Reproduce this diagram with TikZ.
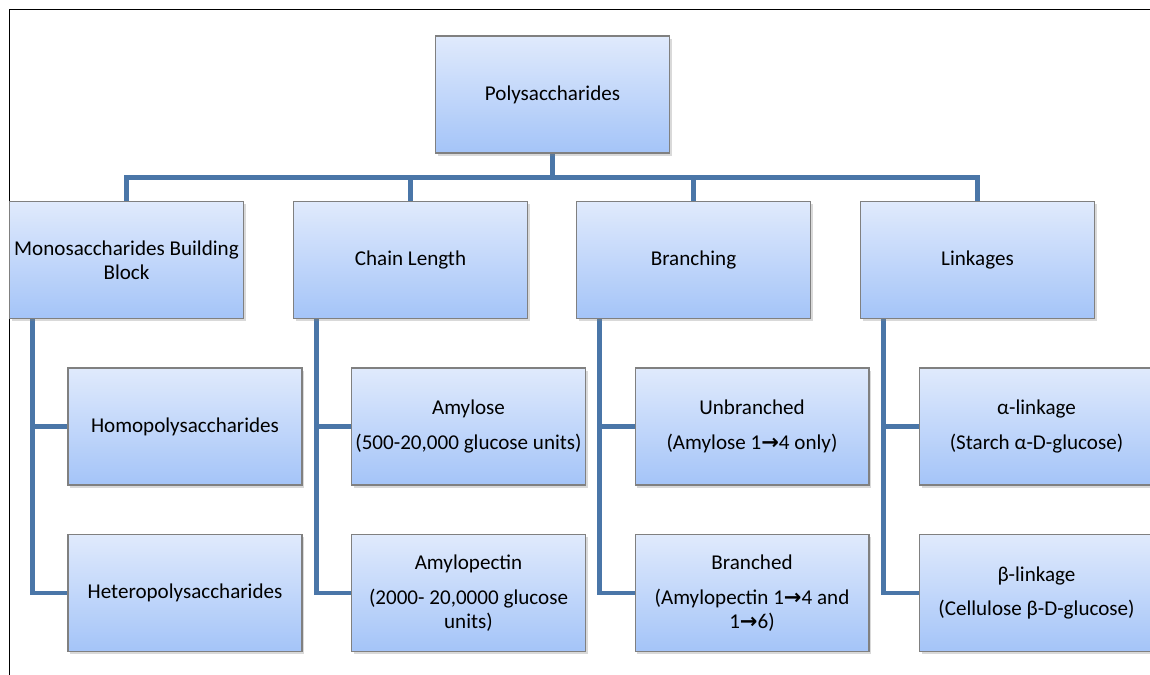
\documentclass[tikz,border=0pt]{standalone}
\usepackage{fontspec}
\setmainfont{Carlito}
\newfontfamily\arrowfont{DejaVu Sans}
\usepackage{tikz, xcolor}
\usetikzlibrary{calc,shadows}
\definecolor{lineblue}{RGB}{74,118,168}
\definecolor{boxtop}{RGB}{224,234,252}
\definecolor{boxbottom}{RGB}{164,196,248}
\definecolor{boxborder}{RGB}{128,128,128}
\newcommand{\ra}{{\arrowfont\bfseries →}}
\tikzset{%
    % style for the boxes of the chart
    chart box/.style={%
        draw=boxborder,
        line width=0.6pt,
        top color=boxtop,
        bottom color=boxbottom,
        minimum width=4.68cm,
        minimum height=2.34cm,
        inner sep=2pt,
        align=center,
        font=\fontsize{12}{13.7}\selectfont,
        drop shadow={shadow xshift=1.2pt, shadow yshift=-1.5pt,
                     opacity=0.3},
    },
    % style for the connectors
    link/.style={%
        draw=lineblue,
        line width=2.8pt,
    },
    % style for the thin frame
    frame/.style={%
        black,
        line width=0.9pt,
    },
}
\pgfdeclarelayer{background}
\pgfsetlayers{background,main}
\newcommand{\bglayer}[1]{%
    \begin{pgfonlayer}{background}%
    #1%
    \end{pgfonlayer}%
}

\begin{document}
\begin{tikzpicture}[x=0.02cm, y=-0.02cm]
    % the page is as large as the reference
    \path [use as bounding box] (0,0) rectangle (1150,675);
    % frame
    \draw [frame] (1150,9.5) -- (9.5,9.5) -- (9.5,675);
    % root
    \node (poly) [chart box] at (552.5,94.5) {Polysaccharides};
    % first level
    \node (mono) [chart box] at (126.5,260)
          {Monosaccharides Building\\Block};
    \node (chain) [chart box] at (410.5,260) {Chain Length};
    \node (branch) [chart box] at (693.5,260) {Branching};
    \node (linkage) [chart box] at (977.5,260) {Linkages};
    % second level
    %% monosaccharides
    \node (homo) [chart box] at (185,426.5) {Homopolysaccharides};
    \node (hetero) [chart box] at (185,593) {Heteropolysaccharides};
    %% chain length
    \node (amylose) [chart box] at (468.5,426.5)
          {Amylose\\[6pt](500-20,000 glucose units)};
    \node (amylopectin) [chart box] at (468.5,593)
          {Amylopectin\\[6pt](2000- 20,0000 glucose\\units)};
    %% branching
    \node (unbranched) [chart box] at (752,426.5)
          {Unbranched\\[6pt](Amylose 1\ra4 only)};
    \node (branched) [chart box] at (752,593)
          {Branched\\[6pt](Amylopectin 1\ra4 and\\1\ra6)};
    %% linkages
    \node (alpha) [chart box] at (1036.5,426.5)
          {α-linkage\\[6pt](Starch α-D-glucose)};
    \node (beta) [chart box] at (1036.5,593)
          {β-linkage\\[6pt](Cellulose β-D-glucose)};
    % connectors
    \bglayer{%
        %% stem and bar
        \draw [link] (poly.south) -- ++(0,24) coordinate (bar);
        \draw [link] (mono.north) |- (bar) -| (linkage.north);
        \foreach \n in {chain,branch}
            \draw [link] (\n.north) -- (\n.north |- bar);
        %% trunks down to the second level
        \foreach \p/\a/\b in {mono/homo/hetero,chain/amylose/amylopectin,
                              branch/unbranched/branched,linkage/alpha/beta}{
            \coordinate (\p-t) at ($(\p.south west)+(23.5,0)$);
            \draw [link] (\p-t) |- (\b.west);
            \draw [link] (\a.west) -- (\a.west -| \p-t);
        }
    }
\end{tikzpicture}
\end{document}
